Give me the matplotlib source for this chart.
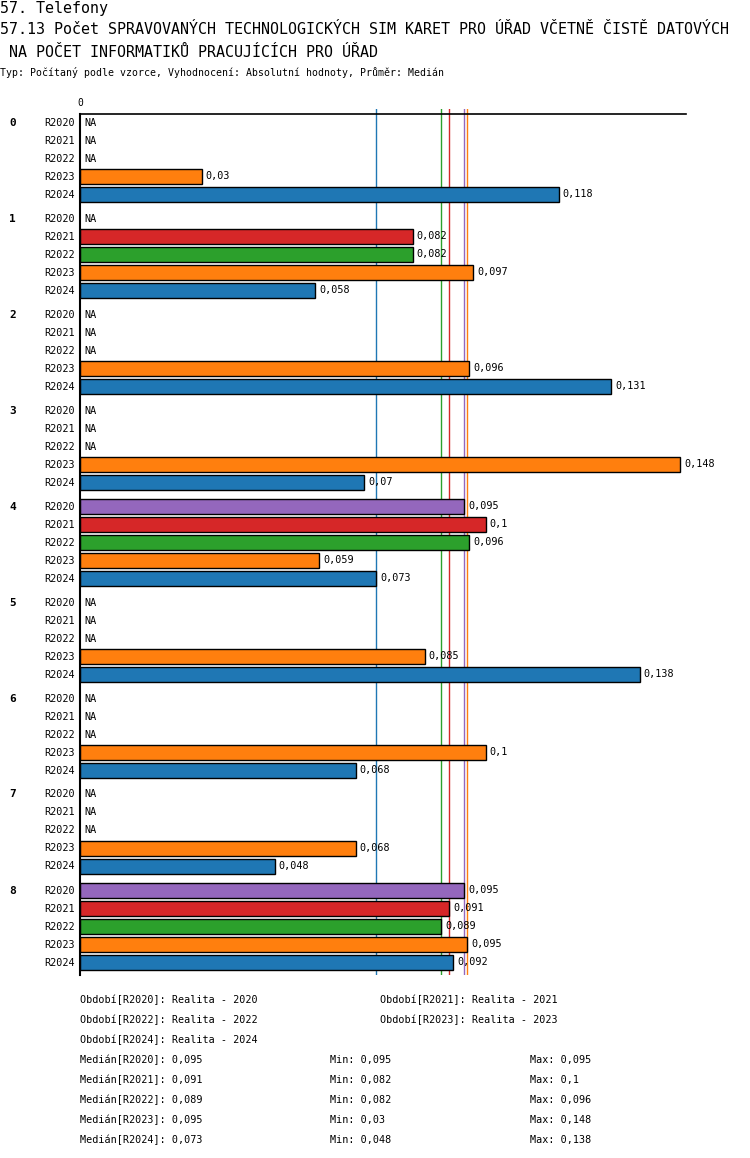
import matplotlib
matplotlib.use('Agg')
import matplotlib.pyplot as plt
import numpy as np

plt.rcParams['font.family'] = ['DejaVu Sans Mono']

W, H = 750, 1158

groups = ['0', '1', '2', '3', '4', '5', '6', '7', '8']
series = ['R2020', 'R2021', 'R2022', 'R2023', 'R2024']
colors = ['#9467bd', '#d62728', '#2ca02c', '#ff7f0e', '#1f77b4']
nan = np.nan

# values per group, rows are R2020..R2024 (nan = NA)
v_r2020 = [nan, nan, nan, nan, 0.0947, nan, nan, nan, 0.0947]
v_r2021 = [nan, 0.082, nan, nan, 0.1, nan, nan, nan, 0.091]
v_r2022 = [nan, 0.082, nan, nan, 0.096, nan, nan, nan, 0.089]
v_r2023 = [0.03, 0.097, 0.096, 0.148, 0.059, 0.085, 0.1, 0.068, 0.0954]
v_r2024 = [0.118, 0.058, 0.131, 0.07, 0.073, 0.138, 0.068, 0.048, 0.092]
values = [v_r2020, v_r2021, v_r2022, v_r2023, v_r2024]

period_names = ['Realita - 2020', 'Realita - 2021', 'Realita - 2022',
                'Realita - 2023', 'Realita - 2024']

title1 = '57. Telefony'
title2 = '57.13 Počet SPRAVOVANÝCH TECHNOLOGICKÝCH SIM KARET PRO ÚŘAD VČETNĚ ČISTĚ DATOVÝCH'
title3 = ' NA POČET INFORMATIKŮ PRACUJÍCÍCH PRO ÚŘAD'
subtitle = 'Typ: Počítaný podle vzorce, Vyhodnocení: Absolutní hodnoty, Průměr: Medián'


def fmt(v):
    s = ('%.3f' % v).rstrip('0').rstrip('.')
    return s.replace('.', ',')


def fx(x):
    return x / W


def fy(y):
    return 1 - y / H


fig = plt.figure(figsize=(W / 100, H / 100), dpi=100)

# axes placement in pixels
ax_l, ax_r, ax_t, ax_b = 80, 686, 109, 975
ax = fig.add_axes([fx(ax_l), fy(ax_b), fx(ax_r - ax_l), (ax_b - ax_t) / H])

row_px = 18.0
group_step = 96.0 / row_px
first_row = 122.5
top_lim = -(first_row - ax_t) / row_px
n_units = (ax_b - ax_t) / row_px
ax.set_ylim(top_lim + n_units, top_lim)
xmax = 0.1494
ax.set_xlim(0, xmax)
for s in ax.spines.values():
    s.set_visible(False)
ax.set_xticks([])
ax.set_yticks([])
px = xmax / (ax_r - ax_l)

# medians as vertical lines
medians = [np.nanmedian(v) for v in values]
for m, c in zip(medians, colors):
    ax.axvline(m, color=c, lw=1, zorder=1)

# top line and zero axis
top_y = top_lim + (114 - ax_t) / row_px
ax.plot([0, xmax], [top_y, top_y], color='black', lw=1.2, zorder=3, clip_on=False)
ax.plot([0, 0], [top_y, top_lim + n_units], color='black', lw=1.5, zorder=3, clip_on=False)
ax.text(0, top_y - 0.35, '0', ha='center', va='bottom', fontsize=7)

for g, gname in enumerate(groups):
    y0 = g * group_step
    ax.text(-71 * px, y0, gname, ha='left', va='center', fontsize=8,
            fontweight='bold', clip_on=False)
    for r, sname in enumerate(series):
        y = y0 + r
        ax.text(-5 * px, y, sname, ha='right', va='center', fontsize=7.3,
                clip_on=False)
        v = values[r][g]
        if np.isnan(v):
            ax.text(4 * px, y, 'NA', ha='left', va='center', fontsize=7.3)
        else:
            ax.barh(y, v, height=0.82, color=colors[r], edgecolor='black',
                    lw=1, zorder=2)
            ax.text(v + 4 * px, y, fmt(v), ha='left', va='center',
                    fontsize=7.3, zorder=4)

# titles
fig.text(fx(0), fy(8), title1, ha='left', va='center', fontsize=10.8)
fig.text(fx(0), fy(30), title2, ha='left', va='center', fontsize=10.8)
fig.text(fx(0), fy(52), title3, ha='left', va='center', fontsize=10.8)
fig.text(fx(0), fy(73), subtitle, ha='left', va='center', fontsize=7.1)

# legend text below
leg_pos = [(80, 1000), (380, 1000), (80, 1020), (380, 1020), (80, 1040)]
for (x, y), sname, pname in zip(leg_pos, series, period_names):
    fig.text(fx(x), fy(y), 'Období[%s]: %s' % (sname, pname), ha='left',
             va='center', fontsize=7.3)

for i, sname in enumerate(series):
    y = 1060 + i * 20
    vals = np.array(values[i], dtype=float)
    fig.text(fx(80), fy(y), 'Medián[%s]: %s' % (sname, fmt(medians[i])),
             ha='left', va='center', fontsize=7.3)
    fig.text(fx(330), fy(y), 'Min: %s' % fmt(np.nanmin(vals)),
             ha='left', va='center', fontsize=7.3)
    fig.text(fx(530), fy(y), 'Max: %s' % fmt(np.nanmax(vals)),
             ha='left', va='center', fontsize=7.3)

fig.savefig('out.png', dpi=100)
